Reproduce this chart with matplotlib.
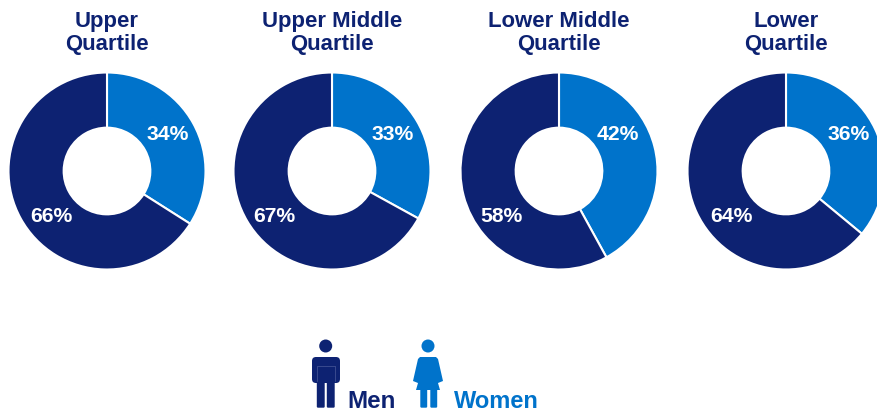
import matplotlib
matplotlib.use("Agg")
import matplotlib.pyplot as plt
from matplotlib.patches import Circle, FancyBboxPatch, Polygon

titles = ["Upper\nQuartile", "Upper Middle\nQuartile", "Lower Middle\nQuartile", "Lower\nQuartile"]
women = [34, 33, 42, 36]
men = [66, 67, 58, 64]
centers_x = [107, 332, 559, 786]
# small per-donut nudges of the labels, in px
women_dx = [0, 0, -2, 2]
men_dx = [1, -2, -1, 2]

NAVY = "#0d2272"
BLUE = "#0073cb"
W, H = 877, 412

plt.rcParams["font.family"] = ["Liberation Sans", "DejaVu Sans"]
plt.rcParams["font.weight"] = "bold"

fig = plt.figure(figsize=(W / 100, H / 100), dpi=100)

# overlay in pixel coords for titles and the legend icons
bg = fig.add_axes([0, 0, 1, 1])
bg.set_xlim(0, W)
bg.set_ylim(H, 0)
bg.axis("off")

R = 98.5
cy = 171
for i, cx in enumerate(centers_x):
    w, m = women[i], men[i]
    ax = fig.add_axes([(cx - R) / W, 1 - (cy + R) / H, 2 * R / W, 2 * R / H])
    ax.pie([w, m], colors=[BLUE, NAVY], startangle=90, counterclock=False, radius=1,
           wedgeprops=dict(width=0.56, edgecolor="white", linewidth=1.5))
    ax.set_xlim(-1, 1)
    ax.set_ylim(-1, 1)
    ax.text(0.615 + women_dx[i] / R, 0.375, f"{w}%", color="white", fontsize=15.2, ha="center", va="center")
    ax.text(-0.57 + men_dx[i] / R, -0.46, f"{m}%", color="white", fontsize=15.2, ha="center", va="center")
    bg.text(cx, 33, titles[i], color=NAVY, fontsize=15.9, ha="center", va="center", linespacing=1.15)

# man icon
bg.add_patch(Circle((325.7, 346), 6.5, color=NAVY, lw=0))
bg.add_patch(FancyBboxPatch((316, 361), 20, 18, boxstyle="round,pad=4", color=NAVY, lw=0))
bg.add_patch(FancyBboxPatch((318, 375), 5.5, 31.5, boxstyle="round,pad=1.2", color=NAVY, lw=0))
bg.add_patch(FancyBboxPatch((328, 375), 5.5, 31.5, boxstyle="round,pad=1.2", color=NAVY, lw=0))
bg.plot([317, 317, 335, 335], [381, 366, 366, 381], color="#4a5a9a", lw=0.5)

# woman icon
bg.add_patch(Circle((428, 346), 6.5, color=BLUE, lw=0))
bg.add_patch(Polygon([(420, 357), (436, 357), (438, 359), (443, 381), (438, 383), (440, 390),
                      (416, 390), (418, 383), (413, 381), (418, 359)], color=BLUE, lw=0))
bg.add_patch(FancyBboxPatch((421.5, 388), 4.5, 18.5, boxstyle="round,pad=1.2", color=BLUE, lw=0))
bg.add_patch(FancyBboxPatch((431.5, 388), 4.5, 18.5, boxstyle="round,pad=1.2", color=BLUE, lw=0))

bg.text(347, 408, "Men", color=NAVY, fontsize=17.4, ha="left", va="baseline")
bg.text(454, 408, "Women", color=BLUE, fontsize=17, ha="left", va="baseline")

fig.savefig("out.png", dpi=100)
